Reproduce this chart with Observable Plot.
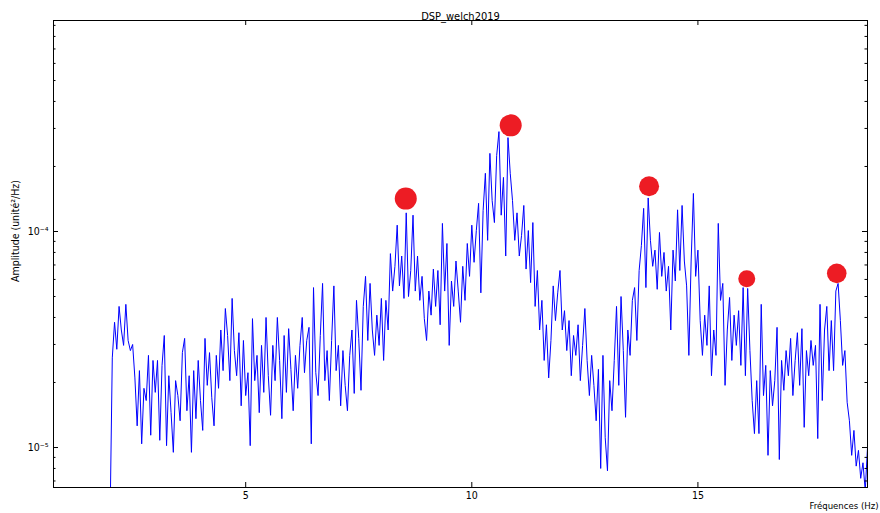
<!DOCTYPE html>
<html><head><meta charset="utf-8">
<script src="https://cdn.jsdelivr.net/npm/d3@7"></script>
<script src="https://cdn.jsdelivr.net/npm/@observablehq/plot@0.6"></script>
<style>
body{margin:0;background:#fff;}
#chart{width:880px;height:513px;}
</style></head><body><div id="chart"></div>
<script>
// Welch PSD, frequency bins from fStart with step fStep (Hz); amplitudes in units of 1e-5 unité²/Hz
const fStart = 2.0, fStep = 0.05;
const UNIT = 1e-5;
const psd = [
0.45, 2.6, 3.8, 2.85, 4.5, 3.5, 2.97, 4.6, 3.13, 2.81,
3.0, 2.1, 1.26, 2.27, 1.04, 1.88, 1.65, 2.67, 1.14, 2.53,
1.8, 2.53, 1.08, 2.4, 3.3, 1.02, 2.15, 1.45, 0.95, 2.04,
1.74, 1.33, 2.75, 3.2, 1.48, 2.15, 0.95, 2.27, 1.36, 2.53,
1.65, 1.2, 3.2, 1.94, 2.75, 1.7, 1.26, 2.67, 1.88, 3.5,
2.27, 4.4, 3.3, 2.04, 4.9, 2.81, 2.15, 3.4, 1.56, 3.13,
1.74, 2.22, 1.02, 3.95, 2.04, 2.67, 1.45, 2.97, 1.8, 4.0,
2.15, 1.41, 2.97, 2.04, 4.0, 2.53, 1.36, 3.3, 1.8, 3.55,
2.3, 1.48, 2.67, 1.88, 2.97, 4.0, 2.22, 3.13, 3.6, 1.04,
5.5, 2.22, 1.74, 3.3, 5.75, 2.04, 2.81, 1.65, 3.13, 5.6,
2.27, 2.97, 1.56, 2.81, 1.94, 1.48, 2.67, 3.5, 1.78, 4.8,
3.2, 1.84, 4.5, 6.2, 3.13, 5.75, 3.5, 2.67, 4.1, 2.97,
4.9, 2.53, 4.8, 3.5, 7.9, 5.3, 6.9, 10.7, 5.6, 7.7,
4.9, 12.2, 5.0, 6.6, 11.9, 5.3, 7.7, 4.8, 6.2, 3.95,
3.13, 5.3, 4.1, 6.7, 4.5, 6.6, 3.7, 10.9, 5.3, 8.8,
2.97, 5.9, 4.5, 7.3, 5.3, 3.8, 6.9, 4.8, 8.8, 6.2,
10.7, 7.2, 10.1, 13.5, 5.2, 12.5, 18.6, 9.1, 23, 13.9,
11.0, 22.5, 29, 11.9, 17.8, 7.7, 27.2, 18.6, 13.9, 9.1,
12.2, 7.7, 9.6, 13.2, 6.7, 10.1, 5.8, 11.0, 4.5, 6.6,
3.5, 4.8, 2.53, 3.7, 2.1, 3.13, 5.6, 3.87, 5.2, 6.6,
3.5, 4.3, 2.81, 3.87, 2.15, 3.3, 2.67, 3.7, 2.04, 2.97,
4.4, 2.53, 1.74, 2.67, 1.94, 1.33, 2.3, 0.8, 2.67, 1.11,
0.78, 2.04, 1.48, 2.53, 4.5, 1.94, 5.0, 2.81, 1.38, 3.5,
2.67, 4.8, 5.5, 3.13, 6.6, 8.6, 12.8, 5.5, 14.3, 9.1,
6.9, 8.2, 5.4, 9.9, 6.2, 8.0, 5.3, 6.9, 3.5, 8.2,
5.9, 12.6, 6.6, 13.2, 7.3, 5.6, 2.67, 7.3, 15, 6.2,
8.2, 3.87, 2.67, 4.1, 2.97, 5.6, 2.15, 3.5, 2.67, 10.9,
4.8, 5.75, 1.94, 3.5, 4.95, 2.53, 4.1, 2.97, 4.3, 2.4,
5.5, 2.15, 5.45, 2.81, 1.65, 1.16, 2.04, 1.16, 4.6, 1.74,
2.4, 0.92, 2.27, 1.56, 2.04, 3.6, 0.88, 2.53, 1.84, 2.81,
2.15, 3.2, 1.74, 2.53, 3.4, 1.94, 3.55, 1.24, 2.81, 2.15,
3.13, 2.4, 2.97, 1.1, 4.6, 1.65, 3.5, 4.5, 2.27, 3.87,
2.27, 5.3, 5.75, 3.87, 2.4, 2.81, 1.62, 1.33, 0.92, 1.2,
0.82, 0.97, 0.72, 0.85, 0.63, 1.0
];
const peakFreq = [8.54, 10.86, 13.92, 16.08, 18.07];
const peakAmp = [14.2, 31, 16.2, 6.05, 6.4];
const xTicks = [5, 10, 15];
const yMajor = [1e-5, 1e-4];
const yMinor = [7e-6, 8e-6, 9e-6, 2e-5, 3e-5, 4e-5, 5e-5, 6e-5, 7e-5, 8e-5, 9e-5, 2e-4, 3e-4, 4e-4, 5e-4, 6e-4, 7e-4, 8e-4, 9e-4];
const supDigits = {"-": "⁻", "0": "⁰", "1": "¹", "2": "²", "3": "³", "4": "⁴", "5": "⁵", "6": "⁶", "7": "⁷", "8": "⁸", "9": "⁹"};
const titleText = "DSP_welch2019";
const xLabel = "Fréquences (Hz)";
const yLabel = "Amplitude (unité²/Hz)";

const series = psd.map((v, i) => ({f: fStart + i * fStep, a: v * UNIT}));
const peaks = peakFreq.map((f, i) => ({f, a: peakAmp[i] * UNIT}));
const powTen = d => "10" + String(Math.round(Math.log10(d))).split("").map(c => supDigits[c]).join("");

const W = 880, H = 513, ML = 53, MR = 13, MT = 20, MB = 26;
const PW = W - ML - MR, PH = H - MT - MB;
const ink = "#000";
const fontFam = "'DejaVu Sans Condensed', 'DejaVu Sans', sans-serif";

const chart = Plot.plot({
  width: W, height: H,
  marginLeft: ML, marginRight: MR, marginTop: MT, marginBottom: MB,
  style: {fontFamily: fontFam, fontSize: "10px", color: ink, background: "#fff", overflow: "visible"},
  x: {domain: [0.75, 18.75]},
  y: {type: "log", domain: [6.53e-6, 9.48e-4]},
  marks: [
    Plot.line(series, {x: "f", y: "a", stroke: "#0000ff", strokeWidth: 1, clip: true}),
    Plot.dot(peaks.slice(0, 2), {x: "f", y: "a", r: 11, fill: "#ed1c24", stroke: "none"}),
    Plot.dot(peaks.slice(2, 3), {x: "f", y: "a", r: 10, fill: "#ed1c24", stroke: "none"}),
    Plot.dot(peaks.slice(3, 4), {x: "f", y: "a", r: 8.5, fill: "#ed1c24", stroke: "none"}),
    Plot.dot(peaks.slice(4), {x: "f", y: "a", r: 9.8, fill: "#ed1c24", stroke: "none"}),
    Plot.frame({stroke: ink, strokeWidth: 1}),
    Plot.tickX(xTicks, {x: d => d, insetTop: PH - 5, stroke: ink}),
    Plot.tickX(xTicks, {x: d => d, insetBottom: PH - 5, stroke: ink}),
    Plot.tickY(yMajor, {y: d => d, insetRight: PW - 5, stroke: ink}),
    Plot.tickY(yMajor, {y: d => d, insetLeft: PW - 5, stroke: ink}),
    Plot.tickY(yMinor, {y: d => d, insetRight: PW - 2.5, stroke: ink}),
    Plot.tickY(yMinor, {y: d => d, insetLeft: PW - 2.5, stroke: ink}),
    Plot.axisX(xTicks, {tickSize: 0, tickPadding: 4, label: null, fill: ink, fontSize: 10.5}),
    Plot.axisY(yMajor, {tickSize: 0, tickPadding: 5, label: null, fill: ink, fontSize: 10.5, tickFormat: powTen}),
    Plot.text([titleText], {frameAnchor: "top", dy: -8, fontSize: 11, fill: ink}),
    Plot.text([yLabel], {frameAnchor: "left", textAnchor: "middle", dx: -38, dy: -23, rotate: -90, fontSize: 10.5, fill: ink}),
    Plot.text([xLabel], {frameAnchor: "bottom-right", textAnchor: "end", lineAnchor: "middle", dx: 11, dy: 18, fontSize: 9.5, fill: ink})
  ]
});
document.getElementById("chart").appendChild(chart);
</script></body></html>
